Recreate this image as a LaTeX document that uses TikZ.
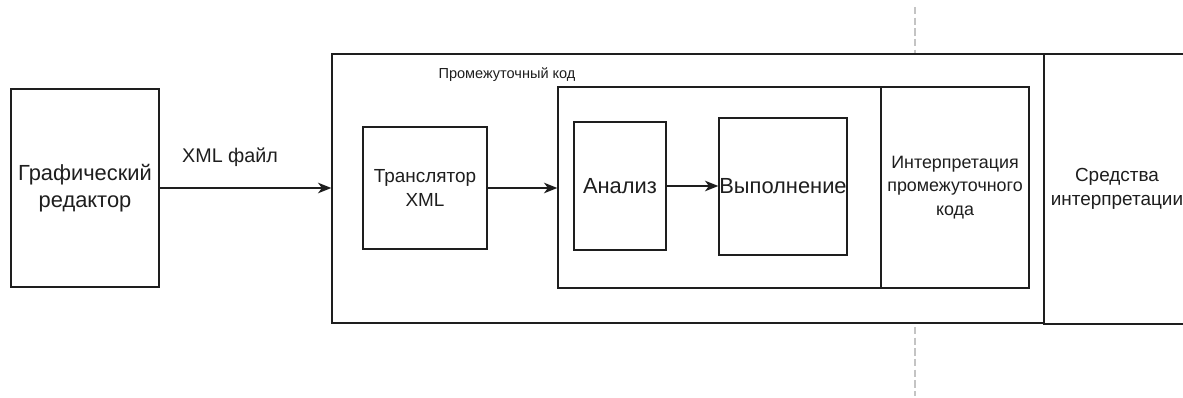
\documentclass[tikz,border=0pt]{standalone}
\usepackage{fontspec}
\setmainfont{Liberation Sans}
\usetikzlibrary{arrows.meta}
\definecolor{ink}{HTML}{1E1E1E}
\definecolor{guide}{HTML}{C4C4C4}
\newdimen\pxu \pxu=0.75pt
\tikzset{
  blk/.style={draw=ink, fill=white, line width=1.1pt, inner sep=0pt,
    align=center, text=ink},
  conn/.style={draw=ink, line width=1.1pt, -{Stealth[length=10pt,width=8pt,inset=3pt]}},
  txtbig/.style={font=\fontsize{16.4}{20.2}\selectfont},
  txtmid/.style={font=\fontsize{14.2}{18}\selectfont},
  txtlbl/.style={font=\fontsize{14.8}{18}\selectfont},
  txtsm/.style={font=\fontsize{13.4}{17.6}\selectfont},
  txttiny/.style={font=\fontsize{10.9}{13}\selectfont},
}
\begin{document}
\begin{tikzpicture}[x=0.75pt, y=-0.75pt]
\useasboundingbox[fill=white] (0,0) rectangle (1183,398);

% vertical dashed guide behind the blocks
\coordinate (gtop) at (915,7);
\coordinate (gbot) at (915,396);
\draw[guide, line width=1.1pt, dash pattern=on 5.5pt off 2.5pt] (gtop) -- (gbot);

% left: editor
\node[blk, txtbig, minimum width=148\pxu, minimum height=198\pxu] (ged) at (85,188)
  {Графический\\редактор};

% intermediate code frame and the interpreter block beside it
\node[blk, minimum width=712\pxu, minimum height=269\pxu] (outer) at (688,188.5) {};
\node[blk, txtmid, minimum width=146\pxu, minimum height=270\pxu] (sred) at (1117,189)
  {Средства\\интерпретации};
\node[txttiny, text=ink, anchor=center] (ilabel) at (507,75) {Промежуточный код};

\node[blk, txtmid, minimum width=124\pxu, minimum height=122\pxu] (trans) at (425,188)
  {Транслятор\\XML};

% interpretation stage
\node[blk, minimum width=471\pxu, minimum height=201\pxu] (inner) at (793.5,187.5) {};
\node[blk, txtbig, minimum width=92\pxu, minimum height=128\pxu] (anal) at (620,186) {Анализ};
\node[blk, txtbig, minimum width=128\pxu, minimum height=137\pxu] (exec) at (783,186.5) {Выполнение};
\node[blk, txtsm, minimum width=148\pxu, minimum height=201\pxu] (interp) at (955,187.5)
  {Интерпретация\\промежуточного\\кода};

% connectors
\draw[conn] (ged.east) -- (ged.east -| outer.west)
  node[pos=0.41, above=12pt, txtlbl, text=ink] (xmllabel) {XML файл};
\draw[conn] (trans.east) -- (trans.east -| inner.west);
\draw[conn] (anal.east) -- (anal.east -| exec.west);
\end{tikzpicture}
\end{document}
